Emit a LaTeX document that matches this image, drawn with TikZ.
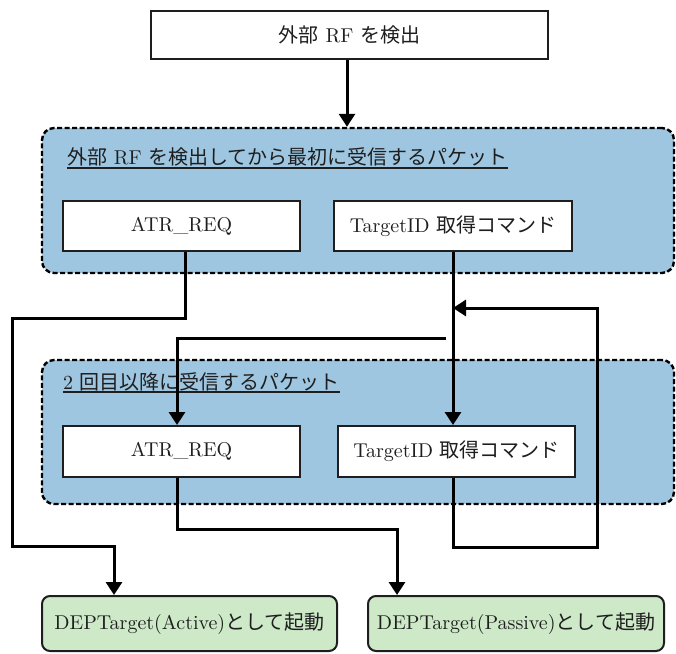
\documentclass[tikz,border=0pt]{standalone}
\usepackage{fontspec}
\setmainfont{lmroman10-regular.otf}
\newfontfamily\jp{Noto Sans CJK JP}
\usepackage{xcolor}
\definecolor{groupblue}{HTML}{9EC6E0}
\definecolor{startgreen}{HTML}{CDE9C8}
\definecolor{textdark}{HTML}{1E1E1E}
\usepackage{tikz}
\usetikzlibrary{arrows.meta,positioning,calc}

\begin{document}
\begin{tikzpicture}[x=1pt, y=-1pt,
  box/.style={draw=textdark, line width=2pt, fill=white, inner sep=0pt,
    minimum width=237pt, minimum height=50pt, text=textdark, font=\fontsize{20}{24}\selectfont},
  group/.style={draw=black, line width=2.4pt, dash pattern=on 5pt off 2.5pt,
    rounded corners=12pt, fill=groupblue, minimum width=632pt, inner sep=0pt},
  grouptitle/.style={anchor=west, inner sep=0pt, text=textdark, font=\fontsize{20}{24}\selectfont},
  startbox/.style={box, rounded corners=8pt, fill=startgreen, minimum height=55pt},
  wire/.style={line width=3pt, draw=black},
  flow/.style={wire, -{Triangle[length=13pt, width=16pt]}}]
  \useasboundingbox (0,0) rectangle (676,653);

  % start
  \node[box, minimum width=397pt, minimum height=48pt] (detect) at (349.5,35) {{\jp 外部} RF {\jp を検出}};

  % first packet
  \node[group, minimum height=145pt] (first) at (358,200.5) {};
  \node[grouptitle] (firsttitle) at (67,157) {{\jp 外部} RF {\jp を検出してから最初に受信するパケット}};
  \draw[textdark, line width=1.8pt] (firsttitle.west |- 0,168) -- (firsttitle.east |- 0,168);
  \node[box] (atrfirst) at (181.5,226) {ATR\_REQ};
  \node[box, minimum width=238pt] (tidfirst) at (453,226) {TargetID {\jp 取得コマンド}};

  % second and later packets
  \node[group, minimum height=144pt] (second) at (358,432) {};
  \node[grouptitle] (secondtitle) at (63,382) {2 {\jp 回目以降に受信するパケット}};
  \draw[textdark, line width=1.8pt] (secondtitle.west |- 0,392) -- (secondtitle.east |- 0,392);
  \node[box, minimum height=51pt] (atrsecond) at (181.5,451.5) {ATR\_REQ};
  \node[box, minimum height=51pt] (tidsecond) at (456.5,451.5) {TargetID {\jp 取得コマンド}};

  % results
  \node[startbox, minimum width=295pt] (active) at (189.5,623.5) {DEPTarget(Active){\jp として起動}};
  \node[startbox, minimum width=296pt] (passive) at (516,623.5) {DEPTarget(Passive){\jp として起動}};

  \coordinate (split) at ($(tidfirst.south)+(0,86)$);
  \coordinate (rejoin) at ($(tidfirst.south)+(0,56)$);

  \draw[flow] (detect.south -| 347,0) -- (first.north -| 347,0);
  \draw[flow] (atrfirst.south -| 185,0) -- ++(0,66) -- ++(-173,0) -- ++(0,228) -| ([xshift=-75.5pt]active.north);
  \draw[flow] (tidfirst.south) -- (tidfirst.south |- tidsecond.north);
  \draw[flow] ([xshift=-7pt]split) -| ([xshift=-4.5pt]atrsecond.north);
  \draw[flow] ([xshift=-4.5pt]atrsecond.south) -- ++(0,51) -| ([xshift=-119pt]passive.north);
  \draw[flow] ([xshift=-3.5pt]tidsecond.south) -- ++(0,69) -- ++(144,0) |- (rejoin);
\end{tikzpicture}
\end{document}
